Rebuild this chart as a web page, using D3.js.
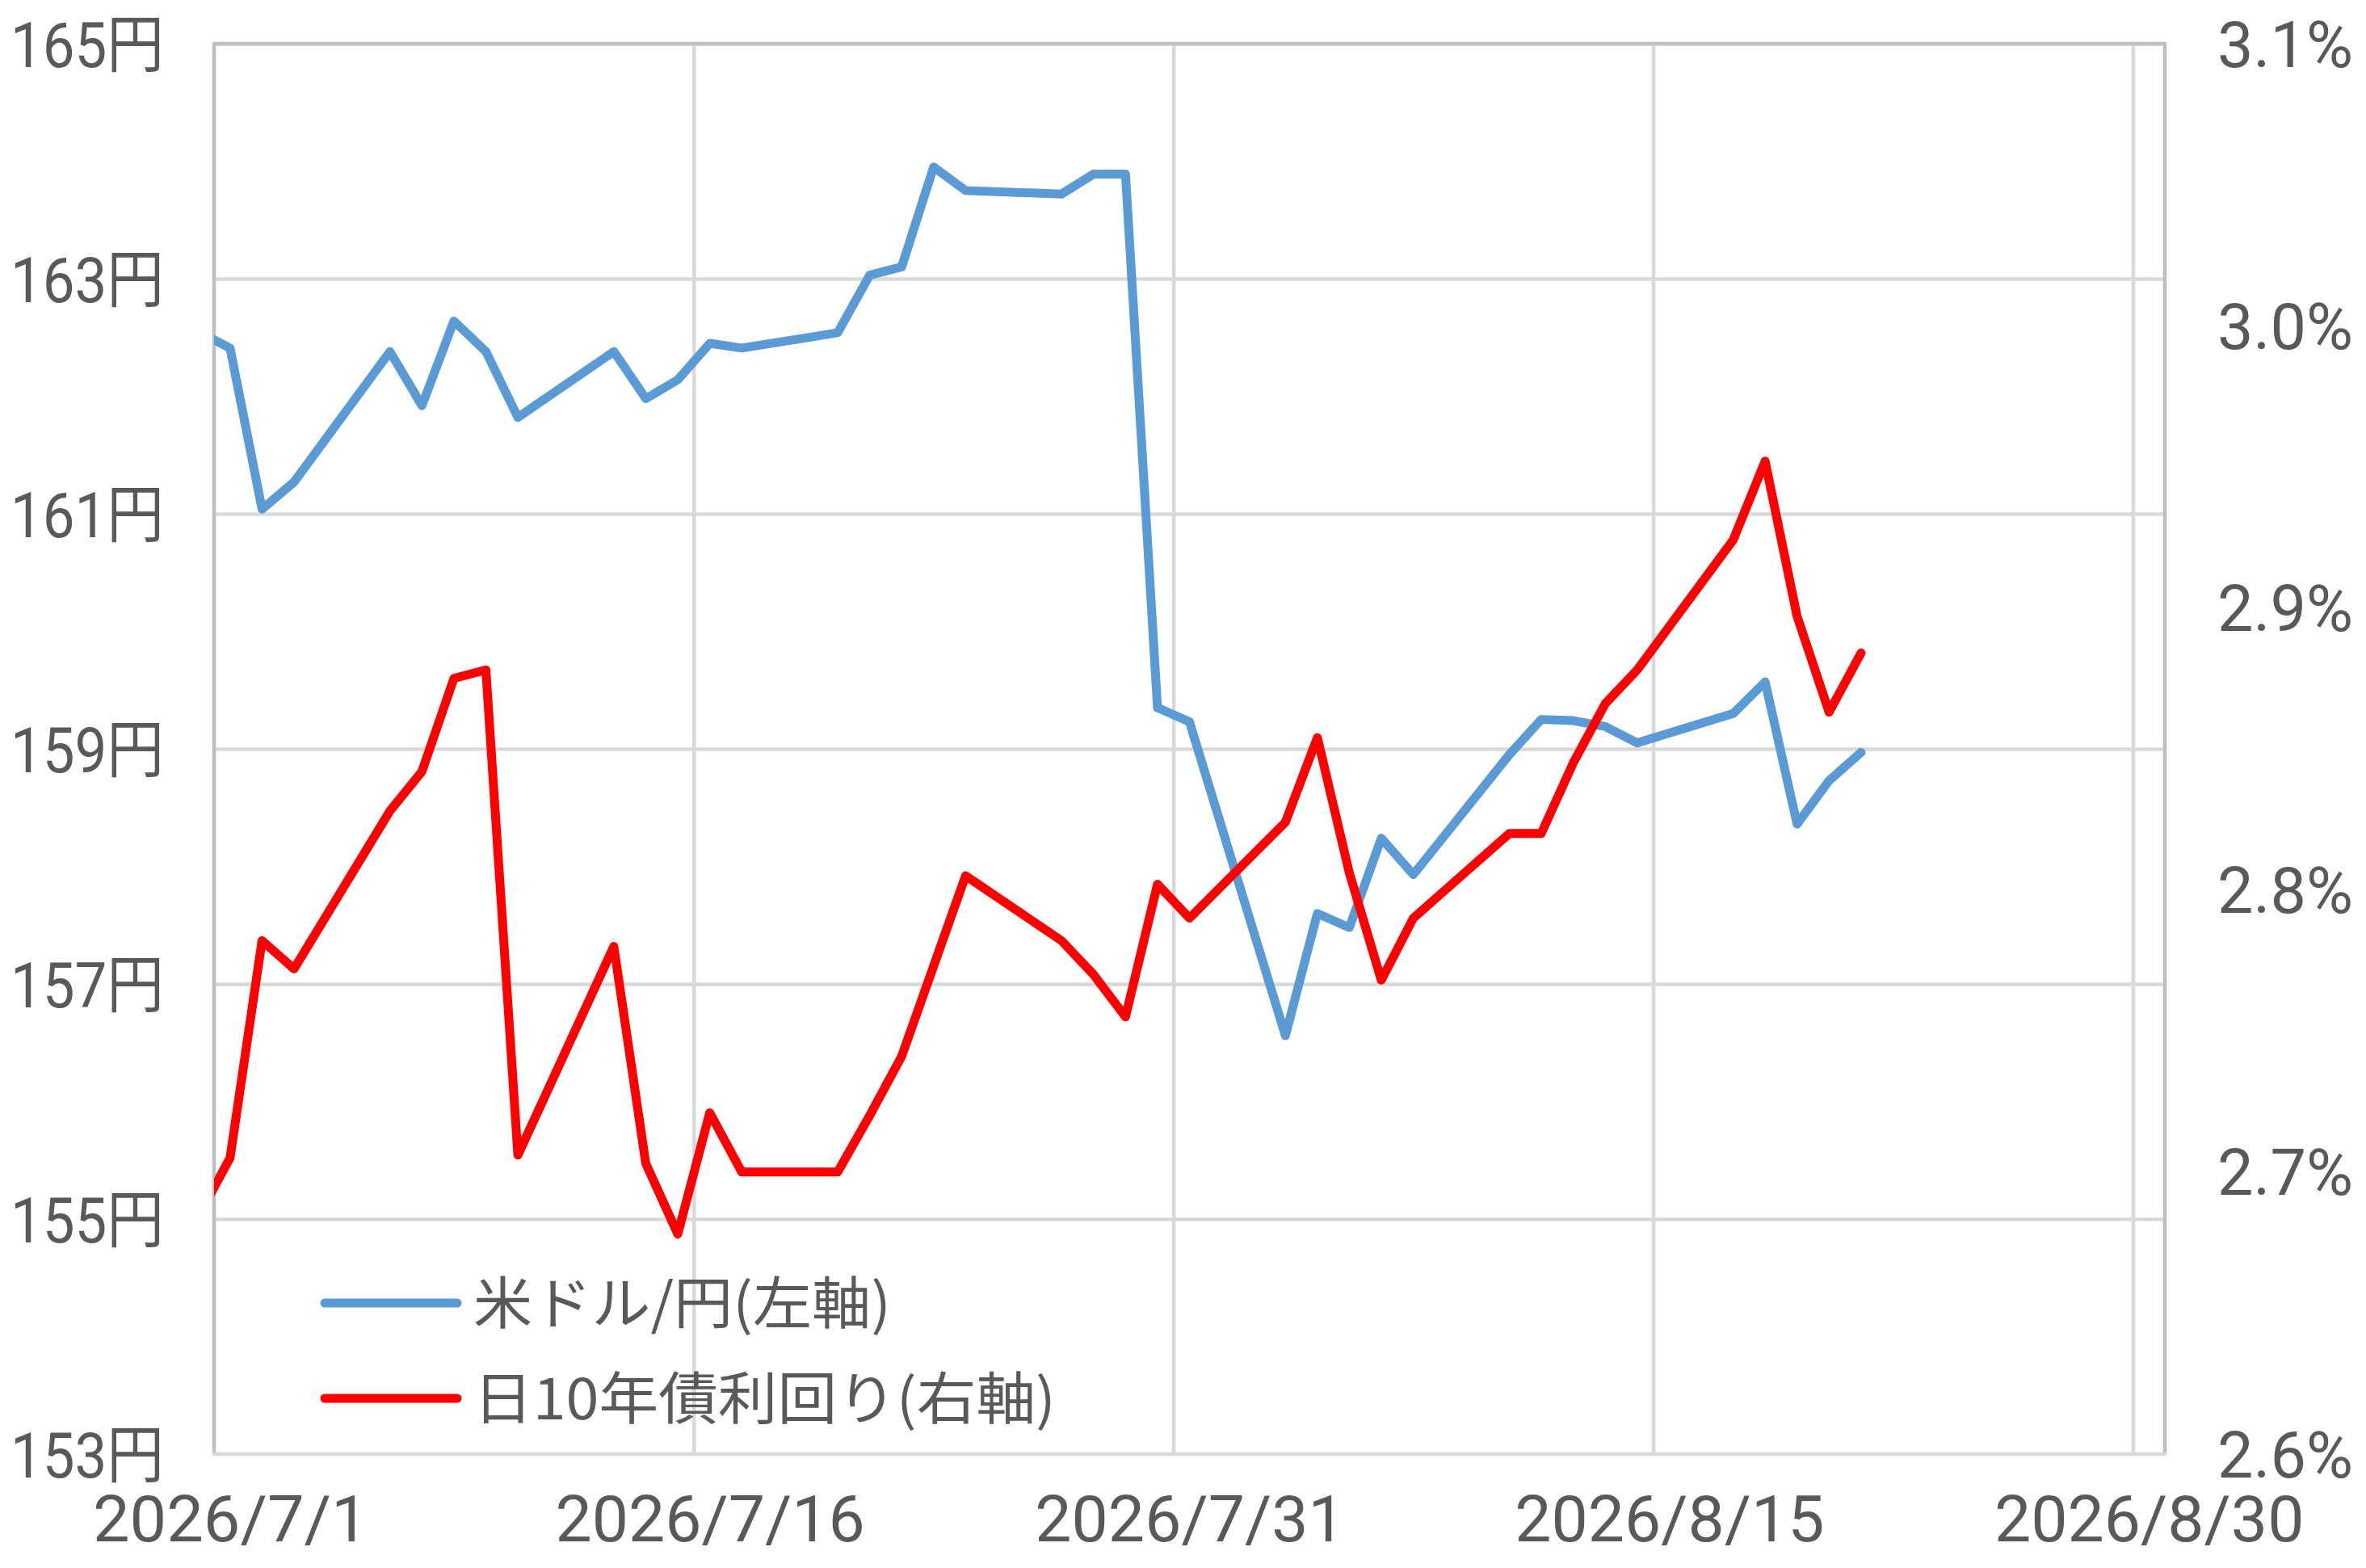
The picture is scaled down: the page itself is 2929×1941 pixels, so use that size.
<!DOCTYPE html>
<html><head><meta charset="utf-8">
<script src="https://cdn.jsdelivr.net/npm/d3@7"></script>
<style>html,body{margin:0;padding:0;background:#fff}</style>
</head><body>
<svg id="c" width="2929" height="1941"></svg>
<script>
const dates = ["2026-06-30","2026-07-01","2026-07-02","2026-07-03","2026-07-06","2026-07-07","2026-07-08","2026-07-09","2026-07-10",
"2026-07-13","2026-07-14","2026-07-15","2026-07-16","2026-07-17","2026-07-20","2026-07-21","2026-07-22","2026-07-23","2026-07-24",
"2026-07-27","2026-07-28","2026-07-29","2026-07-30","2026-07-31","2026-08-03","2026-08-04","2026-08-05","2026-08-06","2026-08-07",
"2026-08-10","2026-08-11","2026-08-12","2026-08-13","2026-08-14","2026-08-17","2026-08-18","2026-08-19","2026-08-20","2026-08-21"];
const usdjpy = [162.55,162.41,161.04,161.27,162.38,161.92,162.64,162.38,161.82,
162.38,161.98,162.14,162.45,162.41,162.54,163.03,163.10,163.95,163.75,
163.72,163.89,163.89,159.35,159.23,156.56,157.60,157.48,158.24,157.93,
158.95,159.25,159.24,159.19,159.05,159.30,159.57,158.36,158.73,158.97];
const jgb10y = [2.684,2.705,2.782,2.772,2.828,2.842,2.875,2.878,2.706,
2.780,2.703,2.678,2.721,2.700,2.700,2.720,2.741,2.773,2.805,
2.782,2.770,2.755,2.802,2.790,2.824,2.854,2.806,2.768,2.790,
2.820,2.820,2.845,2.866,2.878,2.924,2.952,2.897,2.863,2.884];
const leftTicks = [153,155,157,159,161,163,165];
const rightTicks = [2.6,2.7,2.8,2.9,3.0,3.1];
const xTickDates = ["2026-07-01","2026-07-16","2026-07-31","2026-08-15","2026-08-30"];
const xTickLabels = ["2026/7/1","2026/7/16","2026/7/31","2026/8/15","2026/8/30"];
const xDomain = ["2026-07-01","2026-08-31"];
const seriesNames = ["米ドル/円(左軸)","日10年債利回り(右軸)"];
const seriesColors = ["#5B9BD5","#FF0000"];

const L = 265, R = 2680, T = 54, B = 1800;
const FONT_CJK = "'Noto Sans CJK JP', 'Noto Sans', sans-serif";
const FONT_NUM = "Roboto, 'Noto Sans CJK JP', sans-serif";
const TXT = "#595959";
const svg = d3.select("#c");
const parse = s => { const [y,m,d] = s.split("-").map(Number); return new Date(Date.UTC(y, m-1, d)); };
const mid = s => new Date(parse(s).getTime() + 12*3600*1000);

const x = d3.scaleUtc().domain(xDomain.map(parse)).range([L, R]);
const yL = d3.scaleLinear().domain([153,165]).range([B, T]);
const yR = d3.scaleLinear().domain([2.6,3.1]).range([B, T]);

// horizontal gridlines
svg.append("g").attr("transform", `translate(${L},0)`)
  .call(d3.axisLeft(yL).tickValues(leftTicks.slice(1)).tickSize(-(R-L)).tickFormat(""))
  .call(g => g.select(".domain").remove())
  .call(g => g.selectAll("line").attr("stroke", "#d9d9d9").attr("stroke-width", 4.5));
// vertical gridlines
svg.append("g").attr("transform", `translate(0,${T})`)
  .call(d3.axisBottom(x).tickValues(xTickDates.slice(1).map(parse)).tickSize(B-T).tickFormat(""))
  .call(g => g.select(".domain").remove())
  .call(g => g.selectAll("line").attr("stroke", "#d9d9d9").attr("stroke-width", 4.5));

// plot border
svg.append("path").attr("d", `M${L},${B}V${T}H${R}V${B}`).attr("fill","none")
  .attr("stroke","#bfbfbf").attr("stroke-width",4.5).attr("stroke-linejoin","round");
svg.append("line").attr("x1",L-2).attr("x2",R+2).attr("y1",B).attr("y2",B)
  .attr("stroke","#d9d9d9").attr("stroke-width",4.5);

// left axis labels
svg.append("g").attr("transform", `translate(${L},0)`)
  .call(d3.axisLeft(yL).tickValues(leftTicks).tickSize(0).tickPadding(62).tickFormat(d => d + "円"))
  .call(g => g.select(".domain").remove())
  .call(g => g.selectAll("text").attr("font-family", FONT_NUM).attr("font-size", 78).attr("fill", TXT)
     .attr("dy", null).attr("y", 28).attr("textLength", 190).attr("lengthAdjust", "spacingAndGlyphs"));
// right axis labels
svg.append("g").attr("transform", `translate(${R},0)`)
  .call(d3.axisRight(yR).tickValues(rightTicks).tickSize(0).tickPadding(65).tickFormat(d => d3.format(".1f")(d) + "%"))
  .call(g => g.select(".domain").remove())
  .call(g => g.selectAll("text").attr("font-family", FONT_NUM).attr("font-size", 80).attr("fill", TXT)
     .attr("dy", null).attr("y", 28).attr("textLength", 168).attr("lengthAdjust", "spacingAndGlyphs"));
// x axis labels (centered on the day slot)
svg.append("g").attr("transform", `translate(0,${B})`)
  .call(d3.axisBottom(x).tickValues(xTickDates.map(mid)).tickSize(0)
     .tickFormat((d,i) => xTickLabels[i]))
  .call(g => g.select(".domain").remove())
  .call(g => g.selectAll("text").attr("font-family", FONT_NUM).attr("font-size", 80).attr("fill", TXT)
     .attr("y", 108).attr("dy", 0)
     .attr("textLength", (d,i) => xTickLabels[i].length * 42.6).attr("lengthAdjust", "spacingAndGlyphs"));

// clip
svg.append("clipPath").attr("id","clip").append("rect")
  .attr("x", L).attr("y", T).attr("width", R-L).attr("height", B-T);

const rows = dates.map((d,i) => ({d: mid(d), u: usdjpy[i], j: jgb10y[i]}));
const lineU = d3.line().x(r => x(r.d)).y(r => yL(r.u));
const lineJ = d3.line().x(r => x(r.d)).y(r => yR(r.j));
const gl = svg.append("g").attr("clip-path","url(#clip)");
gl.append("path").datum(rows).attr("d", lineU).attr("fill","none").attr("stroke", seriesColors[0])
  .attr("stroke-width", 11).attr("stroke-linejoin","round").attr("stroke-linecap","round");
gl.append("path").datum(rows).attr("d", lineJ).attr("fill","none").attr("stroke", seriesColors[1])
  .attr("stroke-width", 11).attr("stroke-linejoin","round").attr("stroke-linecap","round");

// legend
const legY = [1613, 1731];
const legW = [517, 721];
const leg = svg.append("g");
seriesNames.forEach((n,i) => {
  leg.append("line").attr("x1", 402).attr("x2", 566).attr("y1", legY[i]).attr("y2", legY[i])
    .attr("stroke", seriesColors[i]).attr("stroke-width", 11).attr("stroke-linecap","round");
  leg.append("text").attr("x", 586).attr("y", legY[i] + 26).text(n)
    .attr("font-family", FONT_CJK).attr("font-size", 70).attr("fill", TXT)
    .attr("textLength", legW[i]).attr("lengthAdjust", "spacingAndGlyphs");
});
</script>
</body></html>
